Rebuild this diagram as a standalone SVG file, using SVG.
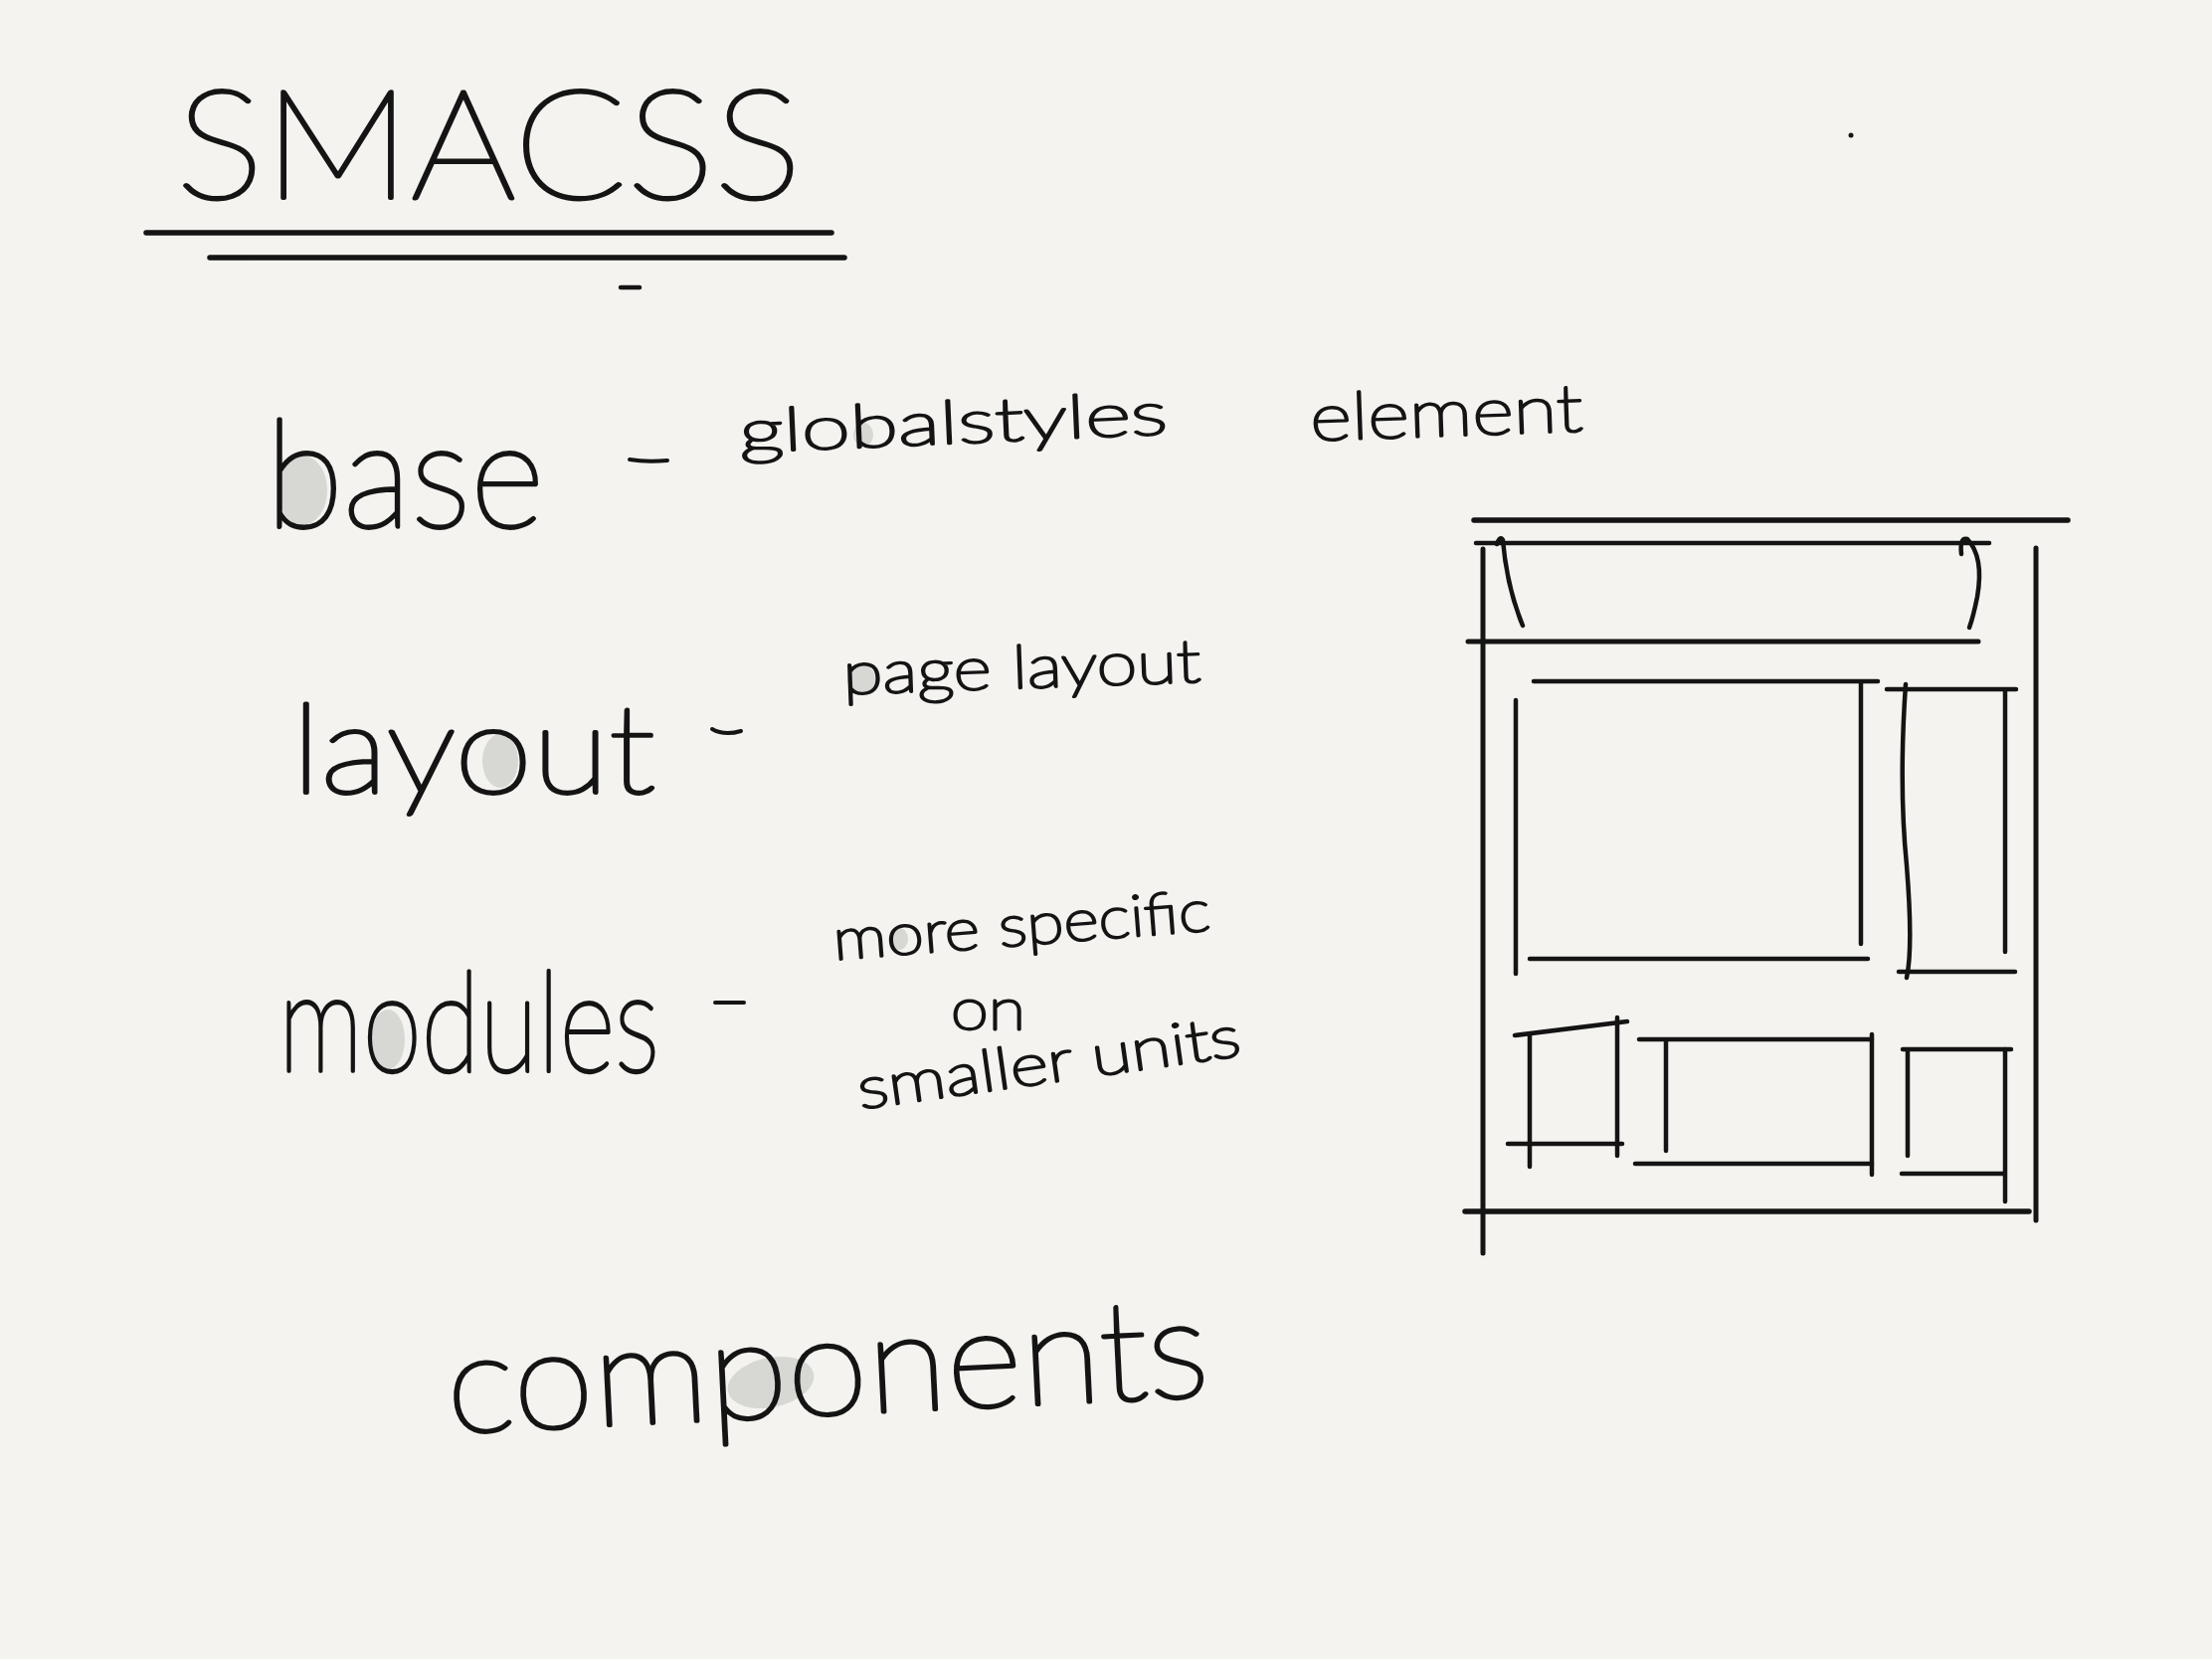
<svg xmlns="http://www.w3.org/2000/svg" width="2224" height="1668" viewBox="0 0 2224 1668">
  <style>
    .ink { fill: none; stroke: #141414; stroke-linecap: round; stroke-linejoin: round; }
    .hand { font-family: "Lato", "Roboto", "Inter", "Open Sans", sans-serif; font-weight: 100; fill: #141414; stroke: #141414; stroke-linejoin: round; }
    .big { stroke-width: 3.8; }
    .small { stroke-width: 2.8; }
    .shade { fill: #d7d7d3; stroke: none; }
  </style>
  <rect width="2224" height="1668" fill="#f4f3ef"/>

  <!-- heading with double underline -->
  <g id="title">
    <text class="hand big" x="177" y="199" font-size="153" textLength="629" lengthAdjust="spacingAndGlyphs">SMACSS</text>
    <path class="ink" stroke-width="5.5" d="M147 234 L836 234"/>
    <path class="ink" stroke-width="5.5" d="M211 259 L849 259"/>
    <path class="ink" stroke-width="4.5" d="M624 289 L643 289"/>
    <circle cx="1861" cy="136" r="2.5" fill="#141414"/>
  </g>

  <!-- base row -->
  <g id="base">
    <ellipse class="shade" cx="304" cy="493" rx="25" ry="35"/>
    <text class="hand big" x="267" y="530" font-size="150" textLength="280" lengthAdjust="spacingAndGlyphs">base</text>
    <path class="ink" stroke-width="4" d="M633 462 Q650 465 671 463"/>
    <ellipse class="shade" cx="868" cy="437" rx="10" ry="12"/>
    <text class="hand small" x="744" y="455" font-size="60" textLength="431" lengthAdjust="spacingAndGlyphs" transform="rotate(-2.5 744 455)">globalstyles</text>
    <text class="hand small" x="1318" y="443" font-size="66" textLength="274" lengthAdjust="spacingAndGlyphs" transform="rotate(-2 1318 443)">element</text>
  </g>

  <!-- layout row -->
  <g id="layout">
    <ellipse class="shade" cx="503" cy="765" rx="18" ry="27"/>
    <text class="hand big" x="293" y="797" font-size="125" textLength="366" lengthAdjust="spacingAndGlyphs">layout</text>
    <path class="ink" stroke-width="4" d="M716 733 Q728 740 745 735"/>
    <ellipse class="shade" cx="866" cy="683" rx="14" ry="15"/>
    <text class="hand small" x="848" y="698" font-size="60" textLength="360" lengthAdjust="spacingAndGlyphs" transform="rotate(-2 848 698)">page layout</text>
  </g>

  <!-- modules row -->
  <g id="modules">
    <ellipse class="shade" cx="390" cy="1045" rx="17" ry="30"/>
    <text class="hand big" x="280" y="1077" font-size="140" textLength="383" lengthAdjust="spacingAndGlyphs">modules</text>
    <path class="ink" stroke-width="4" d="M719 1008 L748 1008"/>
    <ellipse class="shade" cx="904" cy="944" rx="9" ry="11"/>
    <text class="hand small" x="839" y="965" font-size="58" textLength="380" lengthAdjust="spacingAndGlyphs" transform="rotate(-4.5 839 965)">more specific</text>
    <text class="hand small" x="956" y="1035" font-size="58" textLength="75" lengthAdjust="spacingAndGlyphs">on</text>
    <text class="hand small" x="865" y="1115" font-size="58" textLength="388" lengthAdjust="spacingAndGlyphs" transform="rotate(-8 865 1115)">smaller units</text>
  </g>

  <!-- components -->
  <g id="components">
    <ellipse class="shade" cx="775" cy="1390" rx="44" ry="25" transform="rotate(-12 775 1390)"/>
    <text class="hand big" x="451" y="1441" font-size="140" textLength="767" lengthAdjust="spacingAndGlyphs" transform="rotate(-2.8 451 1441)">components</text>
  </g>

  <!-- page wireframe: header, content, sidebar, three blocks -->
  <g id="wireframe" class="ink" stroke-width="4.5">
    <path stroke-width="5.5" d="M1482 523 L2079 523"/>
    <path d="M1484 546 L2000 546"/>
    <path stroke-width="5" d="M1491 552 L1491 1260"/>
    <path stroke-width="5" d="M2047 551 L2047 1227"/>
    <path d="M1505 547 Q1508 538 1511 543 Q1515 590 1531 629"/>
    <path d="M1972 557 Q1970 540 1978 542 Q1995 560 1988 600 Q1984 620 1980 631"/>
    <path stroke-width="5" d="M1476 645 L1989 645"/>
    <path d="M1542 685 L1888 685"/>
    <path d="M1871 687 L1871 949"/>
    <path d="M1524 704 L1524 979"/>
    <path d="M1538 964 L1878 964"/>
    <path d="M1897 693 L2027 693"/>
    <path d="M1916 688 C1911 760 1912 820 1917 870 C1921 920 1922 960 1917 983"/>
    <path d="M2016 695 L2016 957"/>
    <path d="M1909 977 L2026 977"/>
    <path stroke-width="5.5" d="M1473 1218 L2040 1218"/>
    <path d="M1523 1041 L1636 1027"/>
    <path d="M1538 1041 L1538 1173"/>
    <path d="M1626 1023 L1626 1162"/>
    <path d="M1516 1150 L1631 1150"/>
    <path d="M1648 1045 L1882 1045"/>
    <path d="M1675 1047 L1675 1157"/>
    <path d="M1882 1040 L1882 1181"/>
    <path d="M1644 1170 L1882 1170"/>
    <path d="M1913 1055 L2022 1055"/>
    <path d="M1918 1057 L1918 1162"/>
    <path d="M2016 1055 L2016 1208"/>
    <path d="M1912 1180 L2015 1180"/>
  </g>
</svg>
